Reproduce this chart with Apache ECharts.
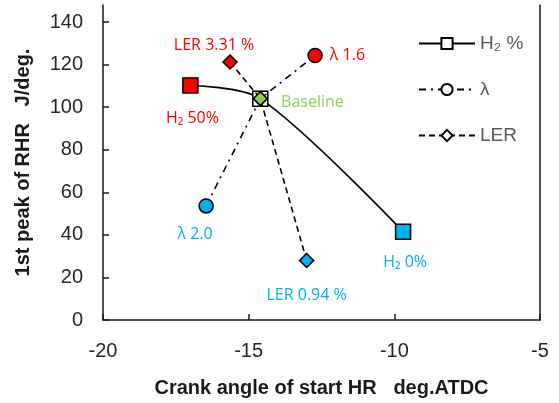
<!DOCTYPE html>
<html>
<head>
<meta charset="utf-8">
<script src="https://cdn.jsdelivr.net/npm/echarts@6/dist/echarts.min.js"></script>
<style>
  html, body { margin: 0; padding: 0; background: #fff; }
  #chart { width: 559px; height: 403px; }
</style>
</head>
<body>
<div id="chart"></div>
<script>
// Crank angle of start of heat release (deg.ATDC) and first RHR peak (J/deg.)
const h2Angles   = [-17.0, -14.6, -9.7];
const h2Peaks    = [110.2, 104.0, 41.5];
const h2Labels   = ['H₂ 50%', '', 'H₂ 0%'];

const lamAngles  = [-16.46, -14.6, -12.72];
const lamPeaks   = [53.6, 104.0, 124.3];
const lamLabels  = ['λ 2.0', '', 'λ 1.6'];

const lerAngles  = [-15.64, -14.6, -13.01];
const lerPeaks   = [121.2, 104.0, 28.0];
const lerLabels  = ['LER 3.31 %', 'Baseline', 'LER 0.94 %'];

const xTicks = [-20, -15, -10, -5];
const yTicks = [0, 20, 40, 60, 80, 100, 120, 140];

const RED = '#FF0000', BLUE = '#00B0F0', GREEN = '#92D050';
const FONT = 'Liberation Sans, Arial, sans-serif';
const LABEL_FONT = 'Open Sans, Noto Sans, sans-serif';

function pts(xs, ys) { return xs.map((x, i) => [x, ys[i]]); }

function pointLabel(text, color, position, offset) {
  return {
    show: text !== '',
    formatter: text,
    position: position,
    offset: offset,
    color: color,
    fontFamily: LABEL_FONT,
    fontSize: 16
  };
}

const h2Data = pts(h2Angles, h2Peaks).map((v, i) => ({
  value: v,
  itemStyle: { color: [RED, '#ffffff', BLUE][i] },
  label: pointLabel(h2Labels[i], [RED, RED, BLUE][i], 'bottom', [[2, 12], [0, 0], [2, 10]][i])
}));

const lamData = pts(lamAngles, lamPeaks).map((v, i) => ({
  value: v,
  symbolSize: i === 1 ? 0 : 14,
  itemStyle: { color: [BLUE, GREEN, RED][i] },
  label: pointLabel(lamLabels[i], [BLUE, BLUE, RED][i], ['bottom', 'right', 'right'][i], [[-11, 8], [0, 0], [2, 0]][i])
}));

const lerData = pts(lerAngles, lerPeaks).map((v, i) => ({
  value: v,
  itemStyle: { color: [RED, GREEN, BLUE][i] },
  label: pointLabel(lerLabels[i], [RED, GREEN, BLUE][i], ['top', 'right', 'bottom'][i], [[-16, 4], [8, 4], [0, 14]][i])
}));

const chart = echarts.init(document.getElementById('chart'), null, { renderer: 'canvas' });

const axisLineStyle = { color: '#1a1a1a', width: 1.5 };

chart.setOption({
  animation: false,
  backgroundColor: '#ffffff',
  grid: { left: 103, right: 19, top: 5, bottom: 81 },
  legend: {
    orient: 'vertical',
    left: 413,
    top: 29,
    itemWidth: 56,
    itemHeight: 14,
    itemGap: 27,
    textStyle: { color: '#595959', fontSize: 19, fontFamily: FONT },
    data: ['H₂ %', 'λ', 'LER']
  },
  xAxis: {
    type: 'value',
    min: -20,
    max: -5,
    interval: 5,
    name: 'Crank angle of start HR   deg.ATDC',
    nameLocation: 'middle',
    nameGap: 58,
    nameTextStyle: { color: '#1a1a1a', fontSize: 20, fontFamily: FONT, fontWeight: 'bold' },
    axisLine: { onZero: false, lineStyle: axisLineStyle },
    axisTick: { inside: true, length: 6, lineStyle: axisLineStyle },
    axisLabel: { color: '#262626', fontSize: 20, fontFamily: FONT, margin: 21,
                 customValues: xTicks },
    splitLine: { show: false }
  },
  yAxis: [{
    type: 'value',
    min: 0,
    max: 148,
    name: '1st peak of RHR   J/deg.',
    nameLocation: 'middle',
    nameGap: 70,
    nameTextStyle: { color: '#1a1a1a', fontSize: 20, fontFamily: FONT, fontWeight: 'bold' },
    axisLine: { show: true, onZero: false, lineStyle: axisLineStyle },
    axisTick: { inside: true, length: 6, lineStyle: axisLineStyle, customValues: yTicks },
    axisLabel: { color: '#262626', fontSize: 20, fontFamily: FONT, margin: 20, customValues: yTicks },
    splitLine: { show: false }
  }, {
    type: 'value',
    position: 'right',
    min: 0,
    max: 148,
    axisLine: { show: true, onZero: false, lineStyle: axisLineStyle },
    axisTick: { show: false },
    axisLabel: { show: false },
    splitLine: { show: false }
  }],
  series: [
    {
      name: 'H₂ %',
      type: 'line',
      smooth: 0.3,
      symbol: 'rect',
      symbolSize: 15,
      showAllSymbol: true,
      lineStyle: { color: '#000', width: 1.6 },
      itemStyle: { color: '#ffffff', borderColor: '#000', borderWidth: 1.5 },
      data: h2Data,
      z: 3
    },
    {
      name: 'λ',
      type: 'line',
      symbol: 'circle',
      symbolSize: 14,
      lineStyle: { color: '#000', width: 1.6, type: [7, 5, 2, 5] },
      itemStyle: { color: '#ffffff', borderColor: '#000', borderWidth: 1.5 },
      data: lamData,
      z: 4
    },
    {
      name: 'LER',
      type: 'line',
      symbol: 'diamond',
      symbolSize: 14,
      lineStyle: { color: '#000', width: 1.6, type: [6, 4] },
      itemStyle: { color: '#ffffff', borderColor: '#000', borderWidth: 1.5 },
      data: lerData,
      z: 5
    }
  ]
});
</script>
</body>
</html>
